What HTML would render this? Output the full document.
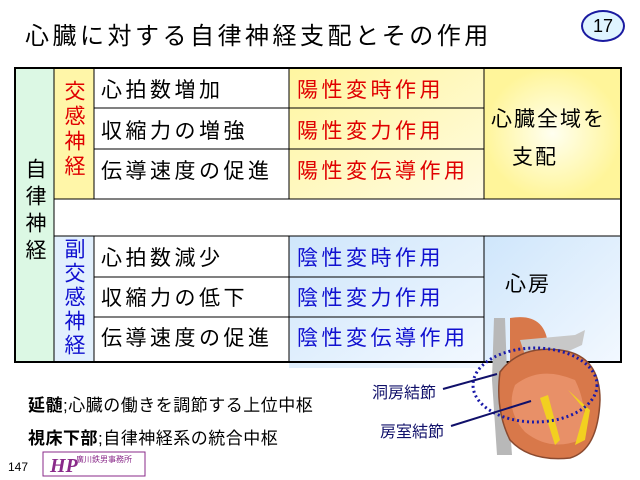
<!DOCTYPE html>
<html><head><meta charset="utf-8"><style>
body{margin:0;width:640px;height:480px;background:#fff;position:relative;overflow:hidden;font-family:"Liberation Sans","Noto Sans CJK JP",sans-serif}
.a{position:absolute}
.t{font-size:21px;color:#000;white-space:nowrap;letter-spacing:3.5px}
.r{color:#e00000}.b{color:#1010d0}
.v{writing-mode:vertical-rl;font-size:21px;line-height:21px}
</style></head><body>
<div class="a" style="left:25px;top:16px;font-size:24px;letter-spacing:3.5px">心臓に対する自律神経支配とその作用</div>
<div class="a" style="left:581px;top:10px;width:40px;height:28px;border:2px solid #1a1aa0;border-radius:50%;background:#dff4ff;text-align:center;line-height:28px;font-size:18px">17</div>

<svg class="a" style="left:0;top:0" width="640" height="480">
<defs>
<linearGradient id="y" x1="0" y1="0" x2="1" y2="1"><stop offset="0" stop-color="#fff6a0"/><stop offset="1" stop-color="#fffbe0"/></linearGradient>
<radialGradient id="y2"><stop offset="0" stop-color="#fffff0"/><stop offset="1" stop-color="#fff59a"/></radialGradient>
<linearGradient id="bl" x1="0" y1="0" x2="1" y2="1"><stop offset="0" stop-color="#cfe6fb"/><stop offset="1" stop-color="#f2f8ff"/></linearGradient>
</defs>
<rect x="15" y="68" width="39" height="294" fill="#dcf8e4"/>
<rect x="54" y="68" width="40" height="131" fill="#fff6a8"/>
<rect x="54" y="236" width="40" height="126" fill="#e2f0fd"/>
<rect x="289" y="68" width="195" height="131" fill="url(#y)"/>
<rect x="484" y="68" width="137" height="131" fill="url(#y2)"/>
<rect x="289" y="236" width="195" height="132" fill="url(#bl)"/>
<rect x="484" y="236" width="137" height="126" fill="url(#bl)"/>
<g stroke="#000" stroke-width="1" fill="none">
<line x1="54" y1="68" x2="54" y2="362"/>
<line x1="94" y1="68" x2="94" y2="199"/><line x1="94" y1="236" x2="94" y2="362"/>
<line x1="289" y1="68" x2="289" y2="199"/><line x1="289" y1="236" x2="289" y2="362"/>
<line x1="484" y1="68" x2="484" y2="199"/><line x1="484" y1="236" x2="484" y2="362"/>
<line x1="94" y1="108" x2="484" y2="108"/><line x1="94" y1="149" x2="484" y2="149"/>
<line x1="54" y1="199" x2="621" y2="199"/><line x1="54" y1="236" x2="621" y2="236"/>
<line x1="94" y1="277" x2="484" y2="277"/><line x1="94" y1="317" x2="484" y2="317"/>
</g>
<rect x="15" y="68" width="606" height="294" fill="none" stroke="#000" stroke-width="2"/>
<!-- heart -->
<path d="M494 318 L505 318 L508 400 L512 455 L497 455 L492 380 Z" fill="#b8b8b8"/>
<path d="M510 318 Q545 312 548 345 L550 365 L510 365 Z" fill="#d8784a"/>
<path d="M520 340 L575 335 L585 330 L582 345 L560 355 L525 355 Z" fill="#c8c8c8"/>
<path d="M500 372 Q520 345 560 350 Q600 355 600 400 Q598 450 570 458 Q530 462 510 440 Q495 410 500 372 Z" fill="#d8784a" stroke="#8a4a30" stroke-width="1.5"/>
<path d="M515 385 Q540 365 575 380 Q590 410 580 440 Q550 452 525 432 Q505 410 515 385 Z" fill="#e89068"/>
<path d="M540 398 L548 395 L560 440 L555 445 Z M568 390 L590 410 L585 440 L575 445 L585 410 Z" fill="#f2d020"/>
<ellipse cx="535" cy="385" rx="62" ry="37" fill="none" stroke="#1a1aa8" stroke-width="3" stroke-dasharray="2 3"/>
<line x1="443" y1="389" x2="497" y2="374" stroke="#10106a" stroke-width="2"/>
<line x1="451" y1="426" x2="531" y2="401" stroke="#10106a" stroke-width="2"/>
<rect x="43" y="452" width="102" height="24" fill="#fff" stroke="#8a2a8a"/>
<text x="50" y="472" font-size="20" font-weight="bold" font-style="italic" fill="#8a2a8a" font-family="Liberation Serif">HP</text>
</svg>

<div class="a v" style="left:24px;top:158px;letter-spacing:6px">自律神経</div>
<div class="a v r" style="left:63px;top:80px;letter-spacing:4px">交感神経</div>
<div class="a v b" style="left:63px;top:238px;letter-spacing:3px">副交感神経</div>

<div class="a t" style="left:101px;top:74px">心拍数増加</div>
<div class="a t" style="left:101px;top:115px">収縮力の増強</div>
<div class="a t" style="left:101px;top:155px">伝導速度の促進</div>
<div class="a t r" style="left:297px;top:74px">陽性変時作用</div>
<div class="a t r" style="left:297px;top:115px">陽性変力作用</div>
<div class="a t r" style="left:297px;top:155px">陽性変伝導作用</div>
<div class="a t" style="left:491px;top:103px;letter-spacing:2px">心臓全域を</div>
<div class="a t" style="left:512px;top:141px;letter-spacing:2px">支配</div>

<div class="a t" style="left:101px;top:242px">心拍数減少</div>
<div class="a t" style="left:101px;top:282px">収縮力の低下</div>
<div class="a t" style="left:101px;top:322px">伝導速度の促進</div>
<div class="a t b" style="left:297px;top:242px">陰性変時作用</div>
<div class="a t b" style="left:297px;top:282px">陰性変力作用</div>
<div class="a t b" style="left:297px;top:322px">陰性変伝導作用</div>
<div class="a t" style="left:505px;top:268px;letter-spacing:2px">心房</div>

<div class="a" style="left:372px;top:379px;font-size:16px;color:#10106a">洞房結節</div>
<div class="a" style="left:380px;top:418px;font-size:16px;color:#10106a">房室結節</div>

<div class="a" style="left:28px;top:391px;font-size:17px;letter-spacing:0.5px"><b>延髄</b>;心臓の働きを調節する上位中枢</div>
<div class="a" style="left:28px;top:424px;font-size:17px;letter-spacing:0.5px"><b>視床下部</b>;自律神経系の統合中枢</div>
<div class="a" style="left:8px;top:460px;font-size:12px">147</div>
<div class="a" style="left:76px;top:454px;font-size:8px;color:#8a2a8a">廣川鉄男事務所</div>
</body></html>
